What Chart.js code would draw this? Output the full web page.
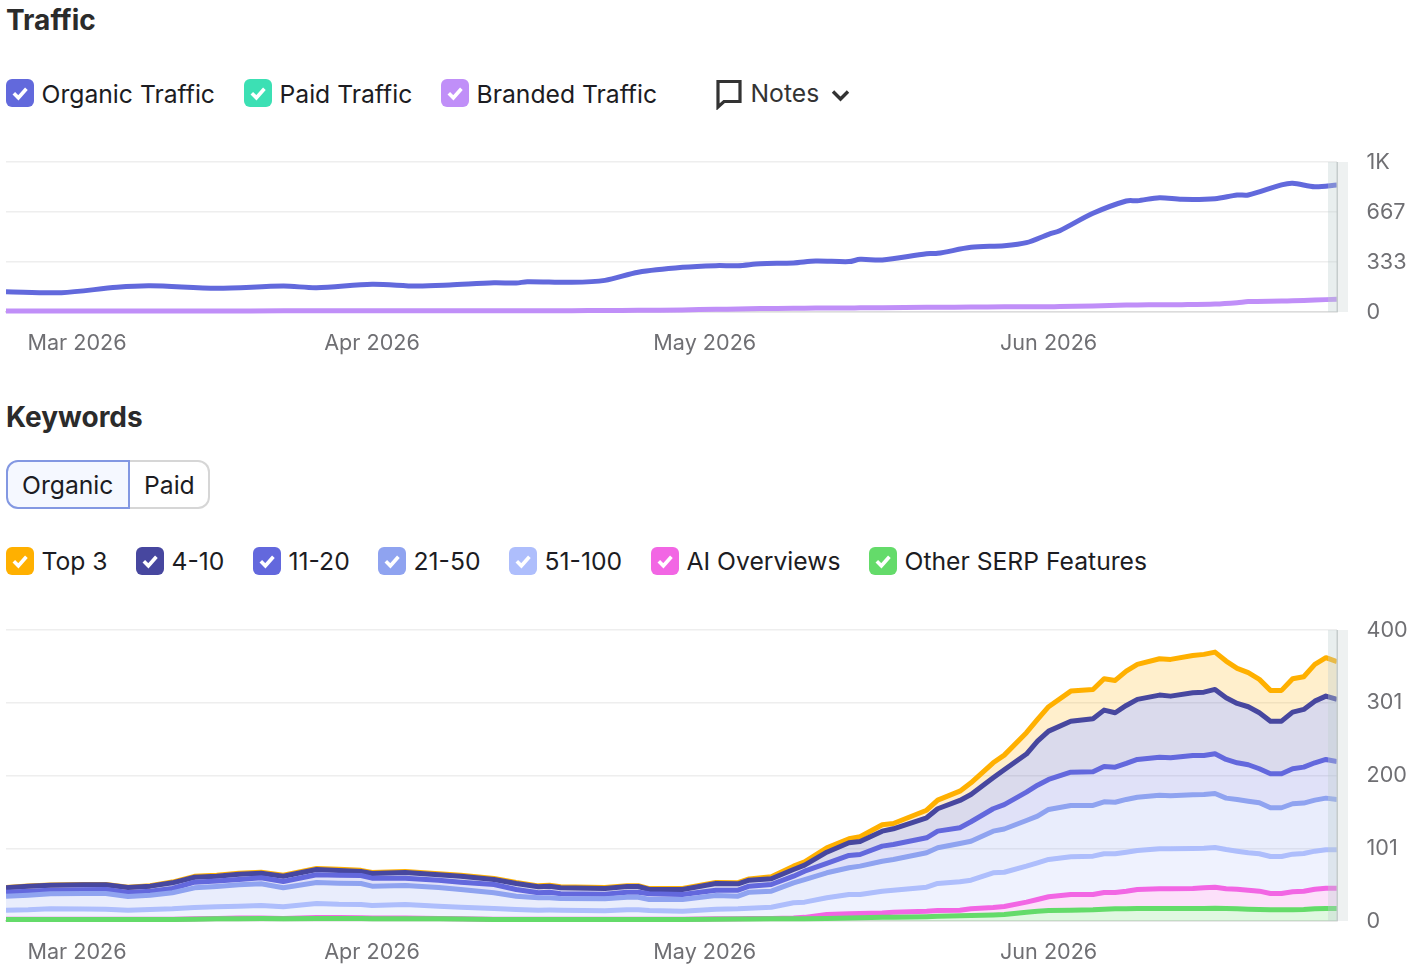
<!DOCTYPE html>
<html>
<head>
<meta charset="utf-8">
<title>Traffic and Keywords</title>
<script src="https://cdn.jsdelivr.net/npm/chart.js@4"></script>
<style>
  html, body { margin: 0; background: #fff; }
  body { position: relative; width: 1412px; height: 969px; overflow: hidden; font-family: Inter, "Noto Sans", sans-serif; color: #1c1c22; }
  .abs { position: absolute; white-space: nowrap; }
  h2 { position: absolute; left: 6px; margin: 0; font-size: 28px; line-height: 34px; font-weight: 700; color: #2b2b2b; }
  .label { position: absolute; font-size: 24.7px; line-height: 30px; white-space: nowrap; }
  .box { position: absolute; width: 28px; height: 28px; border-radius: 6px; }
  .box svg { display: block; }
  canvas { position: absolute; left: 0; display: block; }
  .seg { position: absolute; top: 460px; height: 49px; box-sizing: border-box; font-size: 24.7px; line-height: 46px; }
</style>
</head>
<body>
<h2 style="top:3px">Traffic</h2>
<div id="trafficLegend"></div>
<svg class="abs" style="left:715px;top:78px" width="28" height="32" viewBox="0 0 28 32" fill="none" stroke="#333" stroke-width="3.2" stroke-linejoin="miter">
  <path d="M3 3.5H25V23.5H9L3 29Z"/>
</svg>
<div class="label" style="left:750.5px;top:78px;color:#333">Notes</div>
<svg class="abs" style="left:830px;top:88px" width="21" height="16" viewBox="0 0 21 16" fill="none" stroke="#333" stroke-width="3.4">
  <path d="M3 3.5L10.5 11L18 3.5"/>
</svg>
<canvas id="trafficChart" width="1412" height="230" style="top:140px;width:1412px;height:230px"></canvas>

<h2 style="top:400px">Keywords</h2>
<div class="seg" style="left:6px;width:124px;border:2px solid #8398e2;border-radius:12px 0 0 12px;background:#f5f8ff;padding-left:14px">Organic</div>
<div class="seg" style="left:130px;width:80px;border:2px solid #d6d6d6;border-left:none;border-radius:0 12px 12px 0;padding-left:14px">Paid</div>
<div id="keywordLegend"></div>
<canvas id="keywordChart" width="1412" height="359" style="top:610px;width:1412px;height:359px"></canvas>

<script>
// X axis runs in days across the reporting window, month ticks sit where the labels go
const monthTicks = [6.4, 33, 63, 94];
const monthLabels = ["Mar 2026", "Apr 2026", "May 2026", "Jun 2026"];

// Traffic series
const trafficDays = [0, 5, 10, 13, 19, 25, 28, 33, 37, 40, 44, 46, 47, 51, 54, 57, 61, 64, 66, 68,
  71, 73, 76, 77, 79, 83, 84, 87, 90, 92, 94, 95, 98, 101, 102, 104, 106, 109, 111, 112, 115, 116, 118, 120];
const organicTraffic = [135, 129, 165, 175, 158, 173, 162, 185, 173, 180, 195, 193, 202, 198, 211, 265, 298, 309, 309, 322,
  327, 340, 336, 351, 347, 389, 391, 431, 442, 462, 518, 542, 658, 740, 742, 762, 751, 755, 780, 780, 847, 858, 835, 847];
const paidTraffic = []; // no paid traffic in this period
const brandedTraffic = [6, 6, 6, 7, 7, 8, 8, 8, 8, 9, 9, 9, 9, 9, 10, 11, 14, 18, 20, 23,
  25, 26, 27, 28, 29, 31, 31, 33, 35, 35, 35, 36, 40, 46, 47, 48, 49, 53, 62, 70, 73, 75, 80, 85];
const trafficTicks = [0, 1000 / 3, 2000 / 3, 1000];
const trafficTickLabels = ["0", "333", "667", "1K"];

// Keyword series, each one is the running total up to and including that position group
const keywordDays = [0, 2, 4, 7, 9, 11, 13, 15, 17, 19, 21, 23, 25, 28, 30, 32, 33, 36, 39, 41, 44, 46, 48, 49, 50, 54, 56, 57, 58, 61, 64, 66, 67, 69,
  71, 72, 74, 76, 77, 79, 80, 83, 84, 86, 87, 89, 90, 92, 93, 94, 96, 98, 99, 100, 101, 102, 104, 105, 107, 108, 109, 110, 111, 112, 113, 114, 115, 116, 117, 118, 119, 120];
const top3 = [46, 48.2, 49.5, 50.1, 50.1, 46.4, 48.4, 53.5, 61.4, 62.8, 65.8, 67, 63, 72.3, 71, 69.6, 66.8, 68, 65, 63, 58.4, 53, 48.3, 49.2, 47, 46, 48.6, 48.6, 44.6, 44.6, 53, 52.6, 57.8, 60.8,
  75.4, 81.4, 100.6, 113, 115.8, 132.3, 134, 152.3, 166.1, 178.5, 190, 217.5, 228, 258.9, 277.1, 294.6, 316, 318.3, 333, 330.7, 343.4, 352.7, 360.5, 359.6, 365, 366.5, 369.6, 357.3, 347.2, 341.3, 332.1, 317, 317, 333, 335.8, 352.7, 361.9, 356.4];
const pos4to10 = [45.6, 47.9, 49.2, 49.8, 49.8, 46, 47.9, 52.5, 60.2, 61.6, 64.4, 65.7, 61.6, 70.8, 69.4, 68.1, 65.3, 66.7, 63.5, 61.6, 57, 51.6, 47, 47.9, 45.7, 44.7, 47.4, 47.4, 43.3, 43.3, 51.6, 51.1, 56.1, 58,
  70.8, 76.7, 94.6, 107.5, 109.3, 123.5, 126.8, 141.9, 154.3, 165.7, 173.9, 196.9, 208, 229.5, 247.2, 261, 274.7, 278, 289.9, 286.3, 296.3, 304.6, 310.5, 309.1, 313.8, 314.6, 318.3, 306.9, 299.1, 294.5, 286.3, 274.7, 274.7, 287.1, 290.8, 302.2, 309.1, 304.6];
const pos11to20 = [39.6, 41, 42.4, 43, 43.3, 39.2, 41, 44.7, 53.4, 55, 57, 59.4, 54.3, 63.5, 63, 62.6, 58.9, 58.9, 56.1, 53.4, 50.2, 43.3, 38.8, 39.6, 37.4, 36.9, 39.6, 39.6, 37.4, 36.4, 42.4, 42.4, 47.9, 50.2,
  61.6, 68.5, 79.1, 90.1, 91.4, 102.9, 105.2, 114.4, 123.5, 128.2, 136.4, 154.3, 160, 177.1, 186.7, 194.6, 204.6, 205.2, 212.4, 211.5, 216.6, 222.1, 225.2, 224.4, 227.6, 227.6, 229.9, 222.1, 217.5, 214.8, 209.3, 202.4, 202.4, 209.3, 211.5, 217.5, 222.1, 219.3];
const pos21to50 = [34, 35.5, 37.4, 37.8, 37.8, 33.7, 35.5, 38.8, 45.6, 47.5, 49.8, 51.1, 45.6, 52.9, 52, 51.6, 47.9, 48.8, 46, 43.3, 38.8, 34.1, 31.9, 32, 30.9, 30.5, 32.7, 32.7, 29.6, 29.6, 35, 34.1, 39.6, 41,
  52.5, 57, 66.3, 73.2, 75.4, 82.2, 84.6, 93.8, 100.7, 106.6, 109.7, 123.5, 126.5, 138.2, 144.1, 153.3, 158.8, 158.8, 163.9, 163.3, 167.1, 170.2, 173, 172.1, 173.5, 173.9, 175.3, 168.9, 167.1, 164.7, 162.6, 155.7, 155.7, 161.2, 162.1, 166.1, 168.9, 167.1];
const pos51to100 = [14.9, 15.5, 16.8, 16.5, 16.2, 14.9, 15.8, 16.8, 18.6, 19.5, 20.4, 21.3, 19.5, 24, 23, 22.7, 21.3, 22.7, 20.4, 19, 17.2, 15.8, 14.9, 15, 14.9, 14, 15.4, 15.4, 14.4, 13.5, 16.2, 16.8, 17.6, 19,
  25, 25.9, 31.9, 36.4, 36.4, 41, 42.4, 46.5, 51.6, 53.9, 56.1, 66.3, 67, 75.4, 80, 84.6, 88.3, 89.1, 92.4, 92.4, 94.6, 96.9, 99.3, 99.3, 99.7, 100.1, 101.1, 98.3, 96, 93.8, 92.4, 88.7, 88.7, 91.9, 92.8, 96, 97.9, 97.9];
const aiOverviews = [2.5, 2.5, 2.5, 2.5, 2.5, 2.5, 2.5, 2.5, 3, 3.5, 4, 4.2, 3.6, 4.8, 4.8, 4.6, 4.2, 4.2, 3.6, 3, 2.5, 2.5, 2.5, 2.5, 2.5, 2.5, 2.5, 2.5, 2.5, 2.5, 3, 3.2, 3.4, 3.6,
  4, 5, 8.9, 9.9, 10.3, 11, 12.1, 13.5, 14.4, 14.8, 16.8, 18.5, 20, 26, 29.5, 33.3, 36.4, 36.4, 39.2, 39.2, 41, 43.3, 44.3, 44.3, 44.7, 45.7, 46.5, 44.3, 43.7, 42.4, 41, 37.8, 37.8, 40.2, 41, 43.7, 45.1, 45.1];
const otherSerp = [2, 2, 2, 2, 2, 2, 2, 2, 2.5, 3, 3.2, 3.4, 3, 3.6, 3.6, 3.4, 3.2, 3.2, 3, 2.6, 2, 2, 2, 2, 2, 2, 2, 2, 2, 2, 2.4, 2.6, 2.8, 3,
  3, 3, 3.5, 4, 4.4, 5, 5.2, 6, 6.6, 7.2, 7.6, 8.4, 8.9, 12.1, 13.5, 14.4, 14.9, 15.4, 16.2, 16.8, 16.8, 17.2, 17.2, 17.2, 17.2, 17.2, 17.6, 17.2, 16.8, 16.2, 15.9, 15.4, 15.4, 15.4, 15.9, 16.8, 17.2, 17.2];
const keywordTicks = [0, 100, 200, 300, 400];
const keywordTickLabels = ["0", "101", "200", "301", "400"];

// Series colors
const organicColor = "#6269dc";
const paidColor = "#3ce0b4";
const brandedColor = "#c08ff8";
const top3Color = "#ffb000";
const pos4to10Color = "#47479f";
const pos11to20Color = "#6368dd";
const pos21to50Color = "#8fa3f0";
const pos51to100Color = "#aebefc";
const aiColor = "#f266e4";
const otherSerpColor = "#64db6a";

// Keep the thick lines whole near zero while cutting them flat at both ends
const lineClip = { left: 0, top: 8, right: 0, bottom: 8 };

// Checkbox legend row
function addLegend(containerId, top, items) {
  const container = document.getElementById(containerId);
  items.forEach(([text, color, boxLeft]) => {
    container.insertAdjacentHTML("beforeend", `
      <div class="box" style="left:${boxLeft}px;top:${top}px;background:${color}">
        <svg width="28" height="28" viewBox="0 0 28 28" fill="none" stroke="#fff" stroke-width="3.6"><path d="M7.8 14.2L12.4 18.8L20.4 9.8"/></svg>
      </div>
      <div class="label" style="left:${boxLeft + 35.5}px;top:${top - (containerId === "keywordLegend" ? 1 : 0)}px">${text}</div>`);
  });
}

addLegend("trafficLegend", 79, [
  ["Organic Traffic", organicColor, 6],
  ["Paid Traffic", paidColor, 244],
  ["Branded Traffic", brandedColor, 441],
]);
addLegend("keywordLegend", 547, [
  ["Top 3", top3Color, 6],
  ["4-10", pos4to10Color, 136],
  ["11-20", pos11to20Color, 253],
  ["21-50", pos21to50Color, 378],
  ["51-100", pos51to100Color, 509],
  ["AI Overviews", aiColor, 651],
  ["Other SERP Features", otherSerpColor, 869],
]);

// Grey strip marking the latest, still incomplete days
const latestDaysBand = {
  id: "latestDaysBand",
  afterDatasetsDraw(chart) {
    const { ctx, chartArea } = chart;
    const height = chartArea.bottom - chartArea.top;
    ctx.save();
    ctx.fillStyle = "rgba(190,205,205,0.35)";
    ctx.fillRect(chartArea.right - 9, chartArea.top, 9, height);
    ctx.fillStyle = "#eef1f1";
    ctx.fillRect(chartArea.right, chartArea.top, 11, height);
    ctx.fillStyle = "#c5cccc";
    ctx.fillRect(chartArea.right - 0.5, chartArea.top, 1.5, height);
    ctx.restore();
  },
};

function baseOptions(yMax, yTicks, yLabels, paddingTop, xAxisHeight) {
  return {
    responsive: false,
    animation: false,
    layout: { padding: { left: 6, top: paddingTop, right: 0, bottom: 0 } },
    elements: { point: { radius: 0 }, line: { borderWidth: 5, tension: 0, borderJoinStyle: "round" } },
    plugins: { legend: { display: false }, tooltip: { enabled: false } },
    scales: {
      x: {
        type: "linear",
        min: 0,
        max: 120,
        afterBuildTicks: (scale) => { scale.ticks = monthTicks.map((value) => ({ value })); },
        afterFit: (scale) => { scale.height = xAxisHeight; scale.paddingLeft = 0; scale.paddingRight = 0; },
        grid: { display: false },
        border: { color: "#dcdcdc", width: 1.5 },
        ticks: {
          autoSkip: false,
          maxRotation: 0,
          padding: 11,
          color: "#6f6f73",
          font: { family: "Inter", size: 21.6 },
          callback: (value, i) => monthLabels[i],
        },
      },
      y: {
        position: "right",
        min: 0,
        max: yMax,
        afterBuildTicks: (scale) => { scale.ticks = yTicks.map((value) => ({ value })); },
        // tick labels must not push the plot area away from its fixed top edge
        afterFit: (scale) => { scale.width = 75; scale.paddingTop = 0; scale.paddingBottom = 0; },
        grid: { color: "#eeeeee", lineWidth: 1.5, drawTicks: false },
        border: { display: false },
        ticks: {
          autoSkip: false,
          padding: 29.5,
          color: "#6f6f73",
          font: { family: "Inter", size: 21.6 },
          callback: (value, i) => yLabels[i],
        },
      },
    },
  };
}

// Pair each day with its value for the linear x axis
function points(days, values) {
  return values.map((value, i) => ({ x: days[i], y: value }));
}

new Chart(document.getElementById("trafficChart").getContext("2d"), {
  type: "line",
  data: {
    datasets: [
      { label: "Branded Traffic", data: points(trafficDays, brandedTraffic), borderColor: brandedColor, tension: 0.3, clip: lineClip },
      { label: "Paid Traffic", data: points(trafficDays, paidTraffic), borderColor: paidColor, tension: 0.3, clip: lineClip },
      { label: "Organic Traffic", data: points(trafficDays, organicTraffic), borderColor: organicColor, tension: 0.3, clip: lineClip },
    ],
  },
  options: baseOptions(1000, trafficTicks, trafficTickLabels, 22, 58),
  plugins: [latestDaysBand],
});

// Stacked look: each area fills down to the series listed before it.
// First dataset is painted last, so the lower lines stay on top.
const keywordSeries = [
  ["Other SERP Features", otherSerp, otherSerpColor, "rgba(100,219,106,0.2)"],
  ["AI Overviews", aiOverviews, aiColor, "rgba(242,102,228,0.2)"],
  ["51-100", pos51to100, pos51to100Color, "rgba(174,190,252,0.2)"],
  ["21-50", pos21to50, pos21to50Color, "rgba(143,163,240,0.2)"],
  ["11-20", pos11to20, pos11to20Color, "rgba(99,104,221,0.2)"],
  ["4-10", pos4to10, pos4to10Color, "rgba(71,71,159,0.2)"],
  ["Top 3", top3, top3Color, "rgba(255,176,0,0.2)"],
];

new Chart(document.getElementById("keywordChart").getContext("2d"), {
  type: "line",
  data: {
    datasets: keywordSeries.map(([label, values, color, area], i) => ({
      label,
      data: points(keywordDays, values),
      borderColor: color,
      backgroundColor: area,
      fill: i === 0 ? "origin" : "-1",
      clip: lineClip,
    })),
  },
  options: baseOptions(400, keywordTicks, keywordTickLabels, 20, 48),
  plugins: [latestDaysBand],
});
</script>
</body>
</html>
